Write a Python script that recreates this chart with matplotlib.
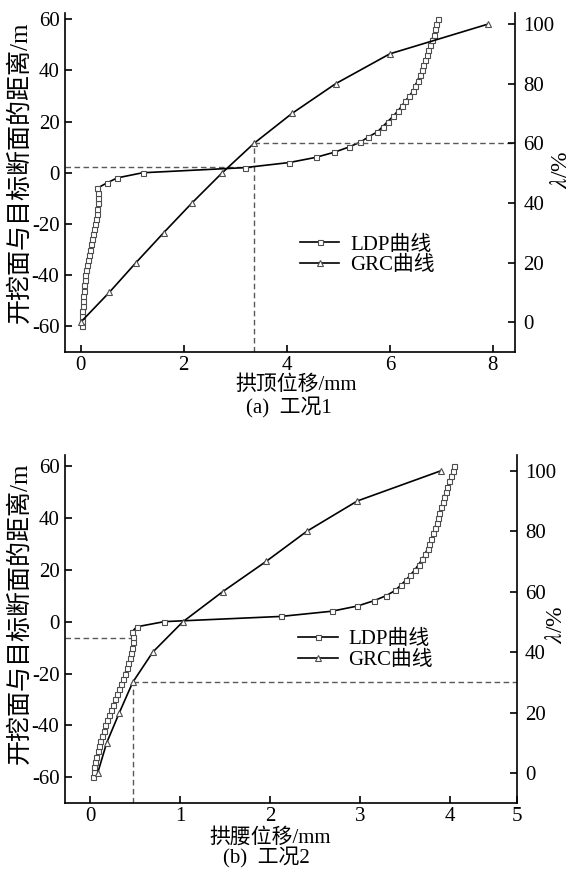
import numpy as np
import matplotlib
matplotlib.use('Agg')
import matplotlib.pyplot as plt

plt.rcParams['font.family'] = ['Liberation Serif', 'Noto Sans CJK SC']
plt.rcParams['mathtext.fontset'] = 'stix'
plt.rcParams['axes.unicode_minus'] = False

# -----------------------
# DATA
# -----------------------
# distance from excavation face to target section (m), LDP points every 2 m
dist = np.arange(-60, 61, 2)
# lambda (%) for GRC points
lam = np.arange(0, 101, 10)

# case 1: crown displacement (mm)
ldp_a = [0.03, 0.025, 0.025, 0.03, 0.04, 0.045, 0.05, 0.057, 0.07, 0.076,
         0.09, 0.10, 0.115, 0.135, 0.16, 0.185, 0.206, 0.225, 0.245, 0.265,
         0.284, 0.297, 0.31, 0.323, 0.33, 0.336, 0.33, 0.325,
         0.505, 0.71, 1.2, 3.18, 4.05, 4.56, 4.92, 5.2,
         5.43, 5.585, 5.76, 5.86, 5.96, 6.06, 6.15, 6.23, 6.30, 6.38,
         6.45, 6.49, 6.54, 6.58, 6.62, 6.65, 6.69, 6.72, 6.75, 6.78,
         6.82, 6.85, 6.87, 6.90, 6.93]
grc_a = [0, 0.555, 1.074, 1.61, 2.16, 2.74, 3.365, 4.10, 4.95, 6.0, 7.91]

# case 2: haunch displacement (mm)
ldp_b = [0.030, 0.041, 0.048, 0.059, 0.070, 0.085, 0.100, 0.115, 0.133, 0.152,
         0.170, 0.193, 0.211, 0.233, 0.256, 0.278, 0.300, 0.322, 0.344, 0.367,
         0.389, 0.407, 0.426, 0.441, 0.456, 0.467, 0.474, 0.472,
         0.465, 0.518, 0.826, 2.12, 2.685,
         2.97, 3.15, 3.29, 3.39, 3.45, 3.51, 3.56, 3.61, 3.65, 3.69,
         3.72, 3.75, 3.77, 3.79, 3.81, 3.83, 3.85, 3.87, 3.88, 3.90,
         3.92, 3.93, 3.95, 3.97, 3.99, 4.01, 4.03, 4.04]
grc_b = [0.085, 0.185, 0.326, 0.474, 0.697, 1.03, 1.474, 1.956, 2.41, 2.97, 3.90]

# guide lines: lambda on GRC, distance on LDP
guide_a = (60, 2.4)
guide_b = (30, -6.5)

FS = 15
W, H = 573, 876


def panel(rect, ldp, grc, xlim, xticks, xticklabels, ylim_l, ylim_r,
          xlabel, caption, guide, leg_anchor, xlab_pos, cap_pos, ylab_l, ylab_r):
    ax = fig.add_axes(rect)
    ax2 = ax.twinx()

    lam_g, dist_g = guide
    xg = np.interp(lam_g, lam, grc)
    dash = dict(color='0.35', lw=1.0, dashes=(4, 2.5), zorder=1)
    ax.plot([xlim[0], xg], [dist_g, dist_g], **dash)
    y_top = ylim_l[0] + (lam_g - ylim_r[0]) / (ylim_r[1] - ylim_r[0]) * (ylim_l[1] - ylim_l[0])
    ax.plot([xg, xg], [ylim_l[0], y_top], **dash)
    ax2.plot([xg, xlim[1]], [lam_g, lam_g], **dash)

    l1, = ax.plot(ldp, dist, '-s', color='black', lw=1.2, ms=3.6, mfc='white',
                  mec='0.3', mew=0.8, label='LDP曲线', zorder=3)
    l2, = ax2.plot(grc, lam, '-^', color='black', lw=1.2, ms=5, mfc='white',
                   mec='0.3', mew=0.8, label='GRC曲线', zorder=3)

    ax.set_xlim(*xlim)
    ax.set_ylim(*ylim_l)
    ax2.set_ylim(*ylim_r)
    ax.set_xticks(xticks)
    ax.set_xticklabels(xticklabels)
    ax.set_yticks(np.arange(-60, 61, 20))
    ax2.set_yticks(np.arange(0, 101, 20))

    for a in (ax, ax2):
        a.spines['top'].set_visible(False)
        for s in a.spines.values():
            s.set_linewidth(1.2)
    ax.spines['right'].set_visible(False)
    ax2.spines['left'].set_visible(False)
    ax2.spines['bottom'].set_visible(False)

    ax.tick_params(axis='both', direction='in', length=5, width=1.2, labelsize=FS)
    ax.tick_params(axis='x', pad=3)
    ax.tick_params(axis='y', pad=4)
    ax2.tick_params(axis='y', direction='in', length=5, width=1.2, labelsize=FS, pad=6)

    ax.set_xlabel(xlabel, fontsize=FS)
    ax.xaxis.label.set_va('center')
    ax.xaxis.set_label_coords(*xlab_pos)
    ax.set_ylabel('开挖面与目标断面的距离/m', fontsize=18)
    ax.yaxis.label.set_va('center')
    ax.yaxis.set_label_coords(*ylab_l)
    ax2.set_ylabel(r'$\lambda$/%', fontsize=17)
    ax2.yaxis.label.set_va('center')
    ax2.yaxis.set_label_coords(*ylab_r)

    ax2.legend([l1, l2], ['LDP曲线', 'GRC曲线'], loc='upper left',
               bbox_to_anchor=leg_anchor, frameon=False, fontsize=FS,
               handlelength=1.9, handletextpad=0.5, labelspacing=0.05,
               borderpad=0, borderaxespad=0, numpoints=1)

    fig.text(cap_pos[0], cap_pos[1], caption, fontsize=FS, ha='center', va='center')
    return ax, ax2


fig = plt.figure(figsize=(W / 100, H / 100), dpi=100)

# panel (a): axes box 65..515 px wide, 13..352 px tall
panel([65 / W, 1 - 352 / H, 450 / W, 339 / H], ldp_a, grc_a,
      (-0.305, 8.43), [0, 2, 4, 6, 8], ['0', '2', '4', '6', '8'],
      (-70, 62.4), (-10, 103.7),
      '拱顶位移/mm', '(a)  工况1', guide_a,
      (0.522, 0.345), (0.513, -0.097), (289 / W, 1 - 408 / H),
      (-0.1, 0.53), (1.104, 0.537))

# panel (b): axes box 65..516.7 px wide, 455..803.3 px tall
panel([65 / W, 1 - 803.3 / H, 451.7 / W, 348.3 / H], ldp_b, grc_b,
      (-0.278, 4.74), [0, 1, 2, 3, 4, 4.74], ['0', '1', '2', '3', '4', '5'],
      (-70, 64.2), (-10, 105.2),
      '拱腰位移/mm', '(b)  工况2', guide_b,
      (0.516, 0.498), (0.454, -0.1), (266 / W, 1 - 858 / H),
      (-0.1, 0.545), (1.089, 0.512))

fig.savefig('out.png', dpi=100)
